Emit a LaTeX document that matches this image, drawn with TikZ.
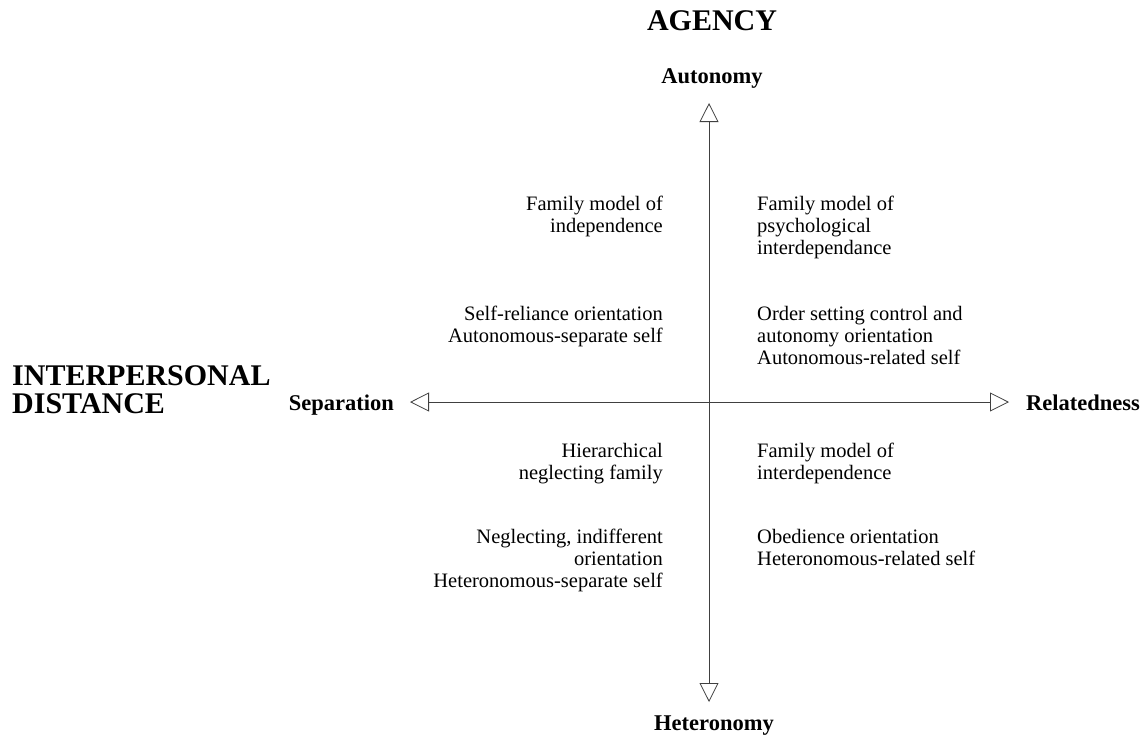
\documentclass[tikz,border=0pt]{standalone}
\usepackage{fontspec}
\setmainfont{Liberation Serif}
\usetikzlibrary{arrows.meta}
\begin{document}
\begin{tikzpicture}[x=1pt,y=-1pt,
  axis/.style={line width=0.8pt,draw=black!75,
    {Triangle[open,length=19pt,width=19pt,line width=0.8pt]}-{Triangle[open,length=19pt,width=19pt,line width=0.8pt]}},
  title/.style={font=\fontsize{30}{28}\selectfont\bfseries,inner sep=0pt,align=left},
  pole/.style={font=\fontsize{22.5}{24}\selectfont\bfseries,inner sep=0pt},
  quad/.style={font=\fontsize{20.5}{22}\selectfont,inner sep=0pt},
  qleft/.style={quad,anchor=base east,align=right},
  qright/.style={quad,anchor=base west,align=left}]
\useasboundingbox (0,0) rectangle (1148,740);

% axis end points
\coordinate (top) at (709,103);
\coordinate (bottom) at (709,702);
\coordinate (left) at (410,402);
\coordinate (right) at (1009,402);

\draw[axis] (bottom) -- (top);
\draw[axis] (left) -- (right);

% dimension titles (base anchor sits on the last line)
\node[title,anchor=base] (agency) at (712,30) {AGENCY};
\node[title,anchor=base west] (distance) at (12,413) {INTERPERSONAL\\DISTANCE};

% poles
\node[pole,anchor=base] (autonomy) at (712,83) {Autonomy};
\node[pole,anchor=base] (heteronomy) at (714,730) {Heteronomy};
\node[pole,anchor=base east] (separation) at (394,410) {Separation};
\node[pole,anchor=base west] (relatedness) at (1026,410) {Relatedness};

% upper left quadrant
\node[qleft] (ul1) at (663,232) {Family model of\\independence};
\node[qleft] (ul2) at (663,342) {Self-reliance orientation\\Autonomous-separate self};

% upper right quadrant
\node[qright] (ur1) at (757,254) {Family model of\\psychological\\interdependance};
\node[qright] (ur2) at (757,364) {Order setting control and\\autonomy orientation\\Autonomous-related self};

% lower left quadrant
\node[qleft] (ll1) at (663,479) {Hierarchical\\neglecting family};
\node[qleft] (ll2) at (663,587) {Neglecting, indifferent\\orientation\\Heteronomous-separate self};

% lower right quadrant
\node[qright] (lr1) at (757,479) {Family model of\\interdependence};
\node[qright] (lr2) at (757,565) {Obedience orientation\\Heteronomous-related self};
\end{tikzpicture}
\end{document}
